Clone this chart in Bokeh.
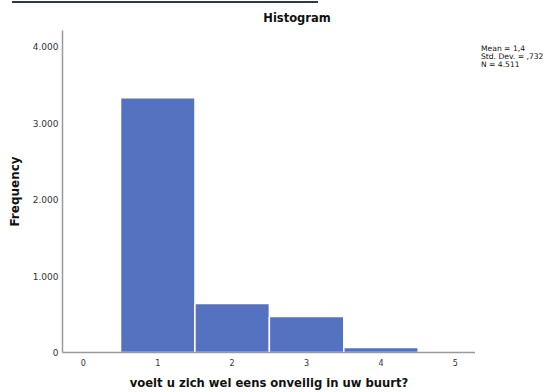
from bokeh.plotting import figure
from bokeh.models import Div, FixedTicker
from bokeh.layouts import column, row
from bokeh.embed import file_html
from bokeh.resources import INLINE

# Data
bins = [1, 2, 3, 4]
counts = [3335, 640, 470, 66]
y_ticks = [0, 1000, 2000, 3000, 4000]
y_tick_labels = ["0", "1.000", "2.000", "3.000", "4.000"]
x_ticks = [0, 1, 2, 3, 4, 5]
stats_lines = ["Mean = 1,4", "Std. Dev. = ,732", "N = 4.511"]
title_text = "Histogram"

FONT = "DejaVu Sans"

FL, FW, FH = 62, 413, 322   # frame left, width, height

p = figure(frame_width=FW, frame_height=FH, output_backend="svg", toolbar_location=None,
           x_range=(-0.28, 5.27), y_range=(0, 4216),
           min_border_left=FL, min_border_right=0, min_border_top=0, min_border_bottom=40)
p.outline_line_color = None
p.grid.grid_line_color = None
p.background_fill_color = "white"
p.border_fill_color = "white"

p.vbar(x=bins, top=counts, width=1.0, bottom=0,
       fill_color="#5572c0", line_color="white", line_width=1.5)

# Axes
p.xaxis.ticker = FixedTicker(ticks=x_ticks)
p.yaxis.ticker = FixedTicker(ticks=y_ticks)
p.yaxis.major_label_overrides = {t: l for t, l in zip(y_ticks, y_tick_labels)}
for ax in (p.xaxis, p.yaxis):
    ax.axis_line_color = "#9a9a9a"
    ax.axis_line_width = 1.5
    ax.major_tick_line_color = None
    ax.minor_tick_line_color = None
    ax.major_tick_out = 0
    ax.major_tick_in = 0
    ax.minor_tick_out = 0
    ax.minor_tick_in = 0
    ax.major_label_text_font = FONT
    ax.major_label_text_color = "#333333"
    ax.axis_label_text_font = FONT
    ax.axis_label_text_font_style = "bold"
    ax.axis_label_text_color = "#111111"
p.xaxis.axis_label_text_font_size = "11.6px"
p.yaxis.axis_label_text_font_size = "12px"
p.xaxis.major_label_text_font_size = "8px"
p.yaxis.major_label_text_font_size = "9px"
p.xaxis.major_label_standoff = 6
p.yaxis.major_label_standoff = 4
p.xaxis.axis_label = "voelt u zich wel eens onveilig in uw buurt?"
p.yaxis.axis_label = "Frequency"
p.xaxis.axis_label_standoff = 7
p.yaxis.axis_label_standoff = 8

top_line = Div(text="", width=306, height=2, margin=(1, 0, 0, 12),
               styles={"background-color": "#2b3a44"})

title = Div(text=title_text, width=120, height=27, margin=(0, 0, 0, 237),
            styles={"font-family": FONT, "font-size": "11.5px", "font-weight": "bold",
                    "color": "#111111", "text-align": "center", "line-height": "30px",
                    "width": "120px"})

stats = Div(text="<br>".join(stats_lines), width=74, height=40, margin=(15, 0, 0, 6),
            styles={"font-family": FONT, "font-size": "7.6px", "color": "#111111",
                    "line-height": "8px", "white-space": "nowrap"})

layout = column(top_line, title, row(p, stats, spacing=0), spacing=0)
open("out.html", "w").write(file_html(layout, INLINE))
